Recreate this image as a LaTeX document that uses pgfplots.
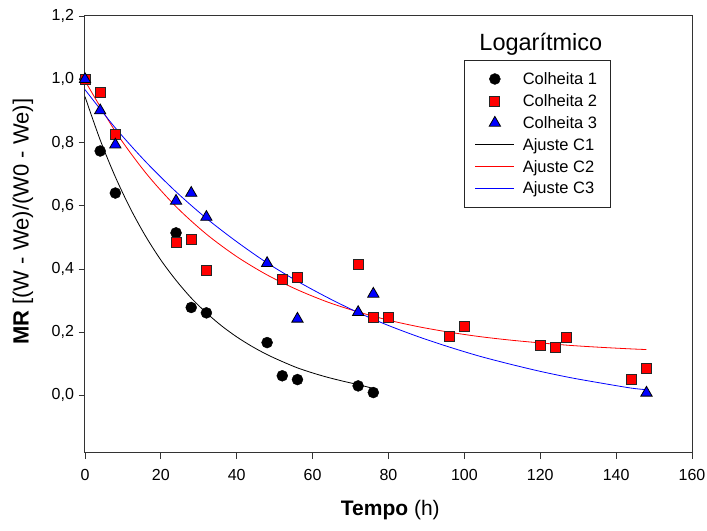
\documentclass[border=0pt]{standalone}
\usepackage{fontspec}
\setmainfont{Liberation Sans}
\usepackage{pgfplots}
\pgfplotsset{compat=1.18}

\begin{document}
\begin{tikzpicture}
\path[use as bounding box] (-85pt,-78pt) rectangle (622pt,452.3pt);
\begin{axis}[
  name=main,
  at={(0pt,0pt)}, anchor=south west,
  scale only axis, width=607pt, height=436.3pt,
  xmin=0, xmax=160, ymin=-0.18, ymax=1.2,
  clip mode=individual,
  xtick={0,20,40,60,80,100,120,140,160},
  ytick={0,0.2,0.4,0.6,0.8,1.0,1.2},
  axis line style={line width=1pt, color=black!80},
  tick style={line width=0.8pt, color=black!80},
  tick align=outside, tickpos=left, major tick length=6.5pt,
  /pgf/number format/assume math mode=true,
  tick label style={font=\fontsize{16}{19}\selectfont},
  yticklabel style={/pgf/number format/.cd, use comma, fixed, fixed zerofill, precision=1, /tikz/.cd, xshift=-1pt},
  xticklabel style={yshift=-7pt},
  legend image code/.code={\draw[mark repeat=2,mark phase=2,#1] plot coordinates {(0pt,0pt) (19.5pt,0pt) (39pt,0pt)};},
  legend style={at={(0.624,0.899)}, anchor=north west, draw=black!85, fill=white,
    font=\fontsize{16.5}{19}\selectfont, inner xsep=11pt, inner ysep=10pt, row sep=4.5pt, column sep=6pt},
  legend cell align=left,
]
% fitted curves
\addplot[black, line width=0.8pt, smooth, forget plot] coordinates {
(0,0.945) (4,0.808) (8,0.691) (12,0.590) (16,0.503) (20,0.428) (24,0.364) (28,0.308)
(32,0.261) (36,0.220) (40,0.185) (44,0.155) (48,0.129) (52,0.107) (56,0.087) (60,0.071)
(64,0.057) (68,0.045) (72,0.034) (76,0.022)};
\addplot[red, line width=0.8pt, smooth, forget plot] coordinates {
(0,0.995) (8,0.835) (16,0.704) (24,0.597) (32,0.510) (40,0.439) (48,0.381) (56,0.334)
(64,0.295) (72,0.264) (80,0.238) (88,0.217) (96,0.200) (104,0.186) (112,0.175) (120,0.166)
(128,0.158) (136,0.152) (144,0.147) (148,0.145)};
\addplot[blue, line width=0.8pt, smooth, forget plot] coordinates {
(0,0.967) (8,0.846) (16,0.739) (24,0.644) (32,0.560) (40,0.486) (48,0.419) (56,0.361)
(64,0.309) (72,0.262) (80,0.221) (88,0.185) (96,0.153) (104,0.124) (112,0.099) (120,0.076)
(128,0.056) (136,0.039) (144,0.023) (148,0.018)};
% data
\addplot[only marks, mark=*, mark size=5.5pt, mark options={fill=black, draw=black}] coordinates {
(0,1.000) (4,0.773) (8,0.640) (24,0.514) (28,0.278) (32,0.261) (48,0.167) (52,0.062)
(56,0.050) (72,0.030) (76,0.009)};
\addlegendentry{Colheita 1}
\addplot[only marks, mark=square*, mark size=5pt, mark options={fill=red, draw=black!85, line width=0.8pt}] coordinates {
(0,1.000) (4,0.959) (8,0.825) (24,0.483) (28,0.494) (32,0.396) (52,0.368) (56,0.374)
(72,0.413) (76,0.248) (80,0.247) (96,0.187) (100,0.218) (120,0.158) (124,0.153) (127,0.185)
(144,0.052) (148,0.086)};
\addlegendentry{Colheita 2}
\addplot[only marks, mark=triangle*, mark size=6.5pt, mark options={fill=blue, draw=black, line width=0.8pt}] coordinates {
(0,1.000) (4,0.901) (8,0.793) (24,0.615) (28,0.640) (32,0.564) (48,0.418) (56,0.242)
(72,0.263) (76,0.321) (148,0.008)};
\addlegendentry{Colheita 3}
\addlegendimage{color=black, draw=black, line width=0.8pt}
\addlegendentry{Ajuste C1}
\addlegendimage{color=red, draw=red, line width=0.8pt}
\addlegendentry{Ajuste C2}
\addlegendimage{color=blue, draw=blue, line width=0.8pt}
\addlegendentry{Ajuste C3}
\node[font=\fontsize{23.5}{28}\selectfont] at (rel axis cs:0.751,0.936) {Logarítmico};
\end{axis}
\node[font=\fontsize{21}{25}\selectfont] at ([xshift=0.503*607pt, yshift=-58pt]main.south west) {\textbf{Tempo} (h)};
\node[rotate=90, font=\fontsize{22}{26}\selectfont] at ([xshift=-62pt, yshift=0.528*436.3pt]main.south west) {\textbf{MR} [(W - We)/(W0 - We)]};
\end{tikzpicture}
\end{document}
